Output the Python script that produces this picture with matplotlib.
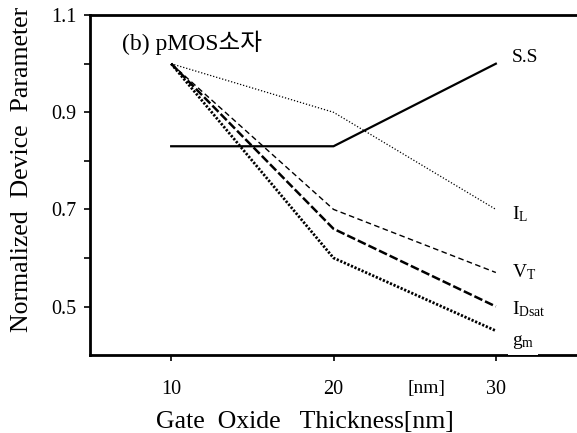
import matplotlib
matplotlib.use("Agg")
import matplotlib.pyplot as plt

plt.rcParams['font.family'] = ['Liberation Serif', 'Noto Sans CJK KR']
plt.rcParams['mathtext.fontset'] = 'custom'
plt.rcParams['mathtext.rm'] = 'Liberation Serif'
plt.rcParams['mathtext.it'] = 'Liberation Serif'

thickness = [10, 20, 30]
ss = [0.83, 0.83, 1.0]
il = [1.0, 0.9, 0.7]
vt = [1.0, 0.7, 0.57]
idsat = [1.0, 0.66, 0.5]
gm = [1.0, 0.6, 0.45]
labels = ['S.S', r'I$_{\mathrm{L}}$', r'V$_{\mathrm{T}}$', r'I$_{\mathrm{Dsat}}$', r'g$_{\mathrm{m}}$']
yticks = [0.5, 0.7, 0.9, 1.1]
yminor = [0.6, 0.8, 1.0]
xticks = [10, 20, 30]

fig = plt.figure(figsize=(5.77, 4.33), dpi=100)
ax = fig.add_axes([0.156, 0.180, 0.844, 0.785])
ax.set_xlim(5, 35)
ax.set_ylim(0.4, 1.1)

ax.plot(thickness, ss, color='black', lw=1.6, ls='-')
ax.plot(thickness, il, color='black', lw=0.9, ls=(0, (1, 1.5)))
ax.plot(thickness, vt, color='black', lw=1.0, ls=(0, (4, 2.5)))
ax.plot(thickness, idsat, color='black', lw=1.8, ls=(0, (3.5, 1.2)))
ax.plot(thickness, gm, color='black', lw=2.0, ls=(0, (0.8, 0.6)))

series = [ss, il, vt, idsat, gm]
offsets = [0.012, -0.01, 0.0, -0.005, -0.023]
for s, lab, off in zip(series, labels, offsets):
    t = ax.text(thickness[-1] + 1.0, s[-1] + off, lab, fontsize=14, va='center', ha='left')
    if lab.startswith('g'):
        t.set_bbox(dict(facecolor='white', edgecolor='none', pad=3))
        t.set_zorder(5)

ax.text(0.066, 0.918, '(b) pMOS소자', transform=ax.transAxes, fontsize=17, va='center', ha='left')

ax.set_yticks(yticks)
ax.set_yticks(yminor, minor=True)
ax.set_yticklabels(['0.5', '0.7', '0.9', '1.1'])
ax.set_xticks(xticks)
ax.tick_params(axis='both', which='both', direction='out', length=4, width=1.2, labelsize=14.5)
ax.tick_params(axis='x', pad=14)
ax.tick_params(axis='y', pad=6)

for sp in ['left', 'bottom', 'top']:
    ax.spines[sp].set_linewidth(2)
ax.spines['right'].set_visible(False)

ax.annotate('[nm]', xy=(25.7, 0.4), xytext=(0, -24), textcoords='offset points',
            fontsize=14, ha='center', va='center', annotation_clip=False)

ax.set_xlabel('Gate  Oxide   Thickness[nm]', fontsize=18.5)
ax.xaxis.set_label_coords(0.441, -0.165)
ax.set_ylabel('Normalized  Device  Parameter', fontsize=18.5)
ax.yaxis.set_label_coords(-0.117, 0.547)

fig.savefig('out.png', dpi=100)
